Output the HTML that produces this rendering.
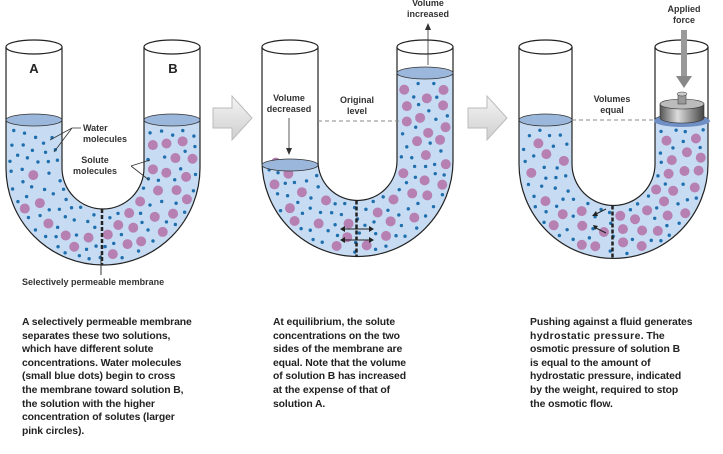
<!DOCTYPE html>
<html><head><meta charset="utf-8"><style>
html,body{margin:0;padding:0;background:#fff;}
body{width:723px;height:454px;overflow:hidden;position:relative;font-family:"Liberation Sans",Arial,sans-serif;}
.t{position:absolute;font-size:10.4px;line-height:13.6px;color:#222;font-weight:bold;letter-spacing:-0.1px}
</style></head><body>
<svg id="s" width="723" height="454" style="position:absolute;left:0;top:0" font-family="Liberation Sans, Arial, sans-serif" font-weight="bold" font-size="9">
<defs>
<linearGradient id="ar" x1="0" y1="0" x2="0" y2="1"><stop offset="0" stop-color="#f4f4f4"/><stop offset="1" stop-color="#cfcfcf"/></linearGradient>
<linearGradient id="wt" x1="0" y1="0" x2="1" y2="0"><stop offset="0" stop-color="#555"/><stop offset="0.4" stop-color="#ddd"/><stop offset="1" stop-color="#444"/></linearGradient>
</defs>
<g id="g"></g>
<path d="M213,108 L232,108 L232,96 L252,118 L232,140 L232,128 L213,128 Z" fill="url(#ar)" stroke="#bbb"/>
<path d="M468,108 L487,108 L487,96 L507,118 L487,140 L487,128 L468,128 Z" fill="url(#ar)" stroke="#bbb"/>
<g id="lab">
<text x="34" y="73" font-size="13" text-anchor="middle" fill="#222">A</text>
<text x="173" y="73" font-size="13" text-anchor="middle" fill="#222">B</text>
<text x="83" y="131" fill="#333">Water</text>
<text x="83" y="142" fill="#333">molecules</text>
<path d="M81,128 L72,128 L50,140 M72,128 L54,152" stroke="#333" fill="none" stroke-width="0.8"/>
<text x="95" y="163" text-anchor="middle" fill="#333">Solute</text>
<text x="95" y="174" text-anchor="middle" fill="#333">molecules</text>
<path d="M131,166 L150,160 M131,166 L149,180" stroke="#333" fill="none" stroke-width="0.8"/>
<line x1="101" y1="255" x2="101" y2="275" stroke="#333" stroke-width="1"/>
<text x="22" y="285" fill="#333" font-size="9">Selectively permeable membrane</text>
<text x="289" y="101" text-anchor="middle" fill="#333">Volume</text>
<text x="289" y="112" text-anchor="middle" fill="#333">decreased</text>
<path d="M289,118 L289,150" stroke="#333" stroke-width="0.8"/><path d="M286,148 L289,155 L292,148 Z" fill="#333"/>
<text x="357" y="103" text-anchor="middle" fill="#333">Original</text>
<text x="357" y="114" text-anchor="middle" fill="#333">level</text>
<line x1="318" y1="121" x2="401" y2="121" stroke="#888" stroke-dasharray="4,3"/>
<text x="428" y="6" text-anchor="middle" fill="#333">Volume</text>
<text x="428" y="17" text-anchor="middle" fill="#333">increased</text>
<path d="M428,65 L428,28" stroke="#333" stroke-width="0.8"/><path d="M425,30 L428,23 L431,30 Z" fill="#333"/>
<text x="612" y="102" text-anchor="middle" fill="#333">Volumes</text>
<text x="612" y="113" text-anchor="middle" fill="#333">equal</text>
<line x1="572" y1="120" x2="656" y2="120" stroke="#888" stroke-dasharray="4,3"/>
<text x="684" y="12" text-anchor="middle" fill="#333">Applied</text>
<text x="684" y="23" text-anchor="middle" fill="#333">force</text>
<rect x="681" y="30" width="6" height="47" fill="#999"/><path d="M676,76 L684,88 L692,76 Z" fill="#888"/>
</g>
</svg>
<div class="t" style="left:22px;top:316px">A selectively permeable membrane<br>separates these two solutions,<br>which have different solute<br>concentrations. Water molecules<br>(small blue dots) begin to cross<br>the membrane toward solution B,<br>the solution with the higher<br>concentration of solutes (larger<br>pink circles).</div>
<div class="t" style="left:273px;top:316px">At equilibrium, the solute<br>concentrations on the two<br>sides of the membrane are<br>equal. Note that the volume<br>of solution B has increased<br>at the expense of that of<br>solution A.</div>
<div class="t" style="left:530px;top:316px">Pushing against a fluid generates<br><span style="letter-spacing:0.4px">hydrostatic pressure</span>. The<br>osmotic pressure of solution B<br>is equal to the amount of<br>hydrostatic pressure, indicated<br>by the weight, required to stop<br>the osmotic flow.</div>
<script>
var g=document.getElementById('g'),NS='http://www.w3.org/2000/svg',seed=11;
function r(){seed=(seed*16807)%2147483647;return seed/2147483647;}
function el(t,a,par){var e=document.createElementNS(NS,t);for(var k in a)e.setAttribute(k,a[k]);(par||g).appendChild(e);return e;}
function U(L,R,w,cy,top,yl,yr,id,pl,pr){
 var cx=(L+R)/2,Ro=(R-L)/2,Ri=Ro-w;
 var liq='M'+L+','+yl+' L'+L+','+cy+' A'+Ro+','+Ro+' 0 0 0 '+R+','+cy+' L'+R+','+yr+' L'+(R-w)+','+yr+' L'+(R-w)+','+cy+' A'+Ri+','+Ri+' 0 0 1 '+(L+w)+','+cy+' L'+(L+w)+','+yl+' Z';
 el('path',{d:liq,fill:'#c7dcf2'});
 function inside(x,y,m){
  if(y<cy){return (x>L+m&&x<L+w-m&&y>yl+6+m)||(x>R-w+m&&x<R-m&&y>yr+6+m);}
  var d=Math.hypot(x-cx,y-cy);return d>Ri+m&&d<Ro-m;}
 var pts=[];
 function place(n,rad,minD,side){var k=0,t=0;while(k<n&&t<6000){t++;
  var x=L+r()*(R-L),y=Math.min(yl,yr)+r()*(cy+Ro-Math.min(yl,yr));
  if(!inside(x,y,rad+2))continue;
  if(side<0&&x>cx-3)continue; if(side>0&&x<cx+3)continue;
  var ok=true;for(var j=0;j<pts.length;j++){var q=pts[j];if(Math.hypot(q[0]-x,q[1]-y)<Math.max(minD,q[2]+rad+3)){ok=false;break;}}
  if(!ok)continue;pts.push([x,y,rad]);k++;
  el('circle',{cx:x,cy:y,r:rad,fill:rad>3?'#b780b2':'#1f6fae'});}}
 place(pl,5,13,-1);place(pr,5,13,1);
 place(90,1.7,9,0);
 el('path',{d:'M'+L+','+top+' L'+L+','+cy+' A'+Ro+','+Ro+' 0 0 0 '+R+','+cy+' L'+R+','+top+' M'+(R-w)+','+top+' L'+(R-w)+','+cy+' A'+Ri+','+Ri+' 0 0 1 '+(L+w)+','+cy+' L'+(L+w)+','+top,fill:'none',stroke:'#222','stroke-width':1.2});
 el('ellipse',{cx:L+w/2,cy:top,rx:w/2,ry:7,fill:'#fff',stroke:'#222','stroke-width':1.2});
 el('ellipse',{cx:R-w/2,cy:top,rx:w/2,ry:7,fill:'#fff',stroke:'#222','stroke-width':1.2});
 el('ellipse',{cx:L+w/2,cy:yl,rx:w/2,ry:6,fill:'#9bb8dc',stroke:'#333','stroke-width':0.8});
 el('ellipse',{cx:R-w/2,cy:yr,rx:w/2,ry:6,fill:'#9bb8dc',stroke:'#333','stroke-width':0.8});
 el('line',{x1:cx-1,y1:cy+Ri,x2:cx-1,y2:cy+Ro,stroke:'#222','stroke-width':2.5,'stroke-dasharray':'4,2'});
}
U(6,200,56,168,47,120,120,'c1',7,22);
U(262,453,56,161,47,165,73,'c2',11,24);
U(519,708,53,164,47,120,120,'c3',12,22);
el('path',{d:'M344,229 L370,229 M344,240 L370,240',stroke:'#222','stroke-width':1});
el('path',{d:'M345,226 L340,229 L345,232 Z M369,226 L374,229 L369,232 Z M345,237 L340,240 L345,243 Z M369,237 L374,240 L369,243 Z',fill:'#222'});
el('path',{d:'M606,209 L594,215 M606,233 L596,228',stroke:'#222','stroke-width':1});
el('path',{d:'M592,216 L596,211 L598,216 Z M593,225 L598,226 L595,230 Z',fill:'#222'});
el('ellipse',{cx:682,cy:121,rx:28,ry:6,fill:'#6f8fc4'});
el('path',{d:'M660,104 L660,118 A22,5 0 0 0 704,118 L704,104 Z',fill:'url(#wt)',stroke:'#333','stroke-width':0.6});
el('ellipse',{cx:682,cy:104,rx:22,ry:5,fill:'#bbb',stroke:'#333','stroke-width':0.6});
el('rect',{x:678,y:94,width:8,height:10,fill:'#999',stroke:'#333','stroke-width':0.5});
el('ellipse',{cx:682,cy:94,rx:5,ry:2,fill:'#ccc',stroke:'#333','stroke-width':0.5});
</script>
</body></html>
